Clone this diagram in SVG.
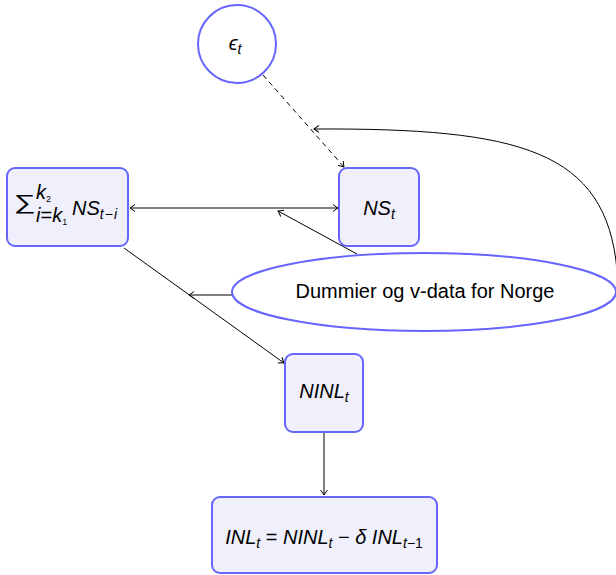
<svg xmlns="http://www.w3.org/2000/svg" width="616" height="575" viewBox="0 0 616 575">
<style>
.box{fill:#f0f0fc;stroke:#6666ff;stroke-width:2}
.circ{fill:#ffffff;stroke:#6666ff;stroke-width:2}
.ln{fill:none;stroke:#000;stroke-width:1}
.m{font-family:"Liberation Sans",Arial,sans-serif;font-style:italic;font-size:20px;fill:#000}
.r{font-family:"Liberation Sans",Arial,sans-serif;font-size:20px;fill:#000}
.s{font-size:14px}
</style>
<defs>
<marker id="ah" viewBox="-6 -4 7 8" refX="0" refY="0" markerWidth="7" markerHeight="8" orient="auto-start-reverse" markerUnits="userSpaceOnUse">
<path d="M-5,-3.5 Q-1.5,-0.8 0,0 Q-1.5,0.8 -5,3.5" fill="none" stroke="#000" stroke-width="1"/>
</marker>
</defs>
<g id="connectors">
<line class="ln" x1="263" y1="75" x2="344" y2="167" stroke-dasharray="5,4" marker-end="url(#ah)"/>
<line class="ln" x1="130" y1="208" x2="338" y2="208" marker-start="url(#ah)" marker-end="url(#ah)"/>
<line class="ln" x1="357" y1="254" x2="278" y2="211" marker-end="url(#ah)"/>
<line class="ln" x1="124" y1="248" x2="284" y2="363" marker-end="url(#ah)"/>
<line class="ln" x1="232" y1="295" x2="189" y2="295" marker-end="url(#ah)"/>
<line class="ln" x1="324" y1="432" x2="324" y2="495" marker-end="url(#ah)"/>
<path class="ln" d="M617,270 C606,150 520,128 314,129" marker-end="url(#ah)"/>
</g>
<g id="eps">
<circle class="circ" cx="237" cy="44" r="39"/>
<text class="m" x="235" y="50" text-anchor="middle" font-style="normal" font-size="19">ϵ<tspan dy="4" class="s" font-style="italic">t</tspan></text>
</g>
<g id="sum">
<rect class="box" x="7" y="168" width="121" height="78" rx="8"/>
<text class="m" x="13" y="209" font-style="normal" font-size="15" textLength="22" lengthAdjust="spacingAndGlyphs">∑</text>
<text class="m" x="36" y="199" font-size="12">k<tspan dy="3" font-size="9" font-style="normal">2</tspan></text>
<text class="m" x="36" y="222" font-size="12">i<tspan font-style="normal">=</tspan>k<tspan dy="3" font-size="9" font-style="normal">1</tspan></text>
<text class="m" x="72" y="215">NS<tspan dy="4" class="s">t<tspan font-style="normal" dx="1">−</tspan><tspan dx="1">i</tspan></tspan></text>
</g>
<g id="ns">
<rect class="box" x="339" y="168" width="80" height="78" rx="8"/>
<text class="m" x="379" y="215" text-anchor="middle">NS<tspan dy="4" class="s">t</tspan></text>
</g>
<g id="dummier">
<ellipse class="circ" cx="424" cy="292" rx="192" ry="39"/>
<text class="r" x="425" y="298" text-anchor="middle">Dummier og v-data for Norge</text>
</g>
<g id="ninl">
<rect class="box" x="285" y="354" width="78" height="78" rx="8"/>
<text class="m" x="324" y="398" text-anchor="middle">NINL<tspan dy="4" class="s">t</tspan></text>
</g>
<g id="inl">
<rect class="box" x="212" y="497" width="225" height="76" rx="8"/>
<text class="m" x="324" y="544" text-anchor="middle">INL<tspan dy="4" class="s">t</tspan><tspan dy="-4" font-style="normal"> = </tspan>NINL<tspan dy="4" class="s">t</tspan><tspan dy="-4" font-style="normal"> − </tspan>δ INL<tspan dy="4" class="s">t<tspan font-style="normal">−1</tspan></tspan></text>
</g>
</svg>
